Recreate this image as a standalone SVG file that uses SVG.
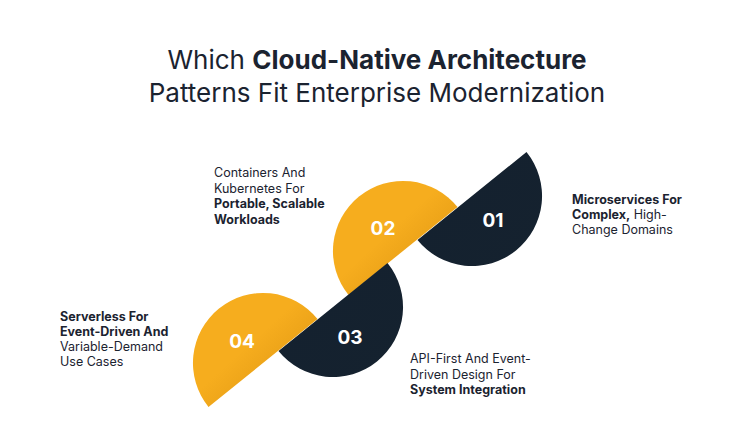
<svg xmlns="http://www.w3.org/2000/svg" width="754" height="446" viewBox="0 0 754 446">
<style>
.t{font-family:Inter,"Open Sans","Liberation Sans",sans-serif;fill:#1b2330}
.lb{font-size:12.5px}
.b{font-weight:700}
.n{font-family:Inter,"Open Sans","Liberation Sans",sans-serif;font-weight:700;font-size:19px;fill:#fff;text-anchor:middle}
.ttl{font-size:26px;text-anchor:middle}
</style>
<defs>
<linearGradient id="gy" x1="0" y1="0" x2="1" y2="1">
<stop offset="0.45" stop-color="#F6AD1E"/><stop offset="0.8" stop-color="#E39A14"/><stop offset="1" stop-color="#B87A10"/>
</linearGradient>
<linearGradient id="gn" x1="0" y1="0" x2="1" y2="1">
<stop offset="0" stop-color="#0E1924"/><stop offset="0.3" stop-color="#14212F"/><stop offset="1" stop-color="#15222F"/>
</linearGradient>
</defs>
<g id="title">
<text class="t ttl" x="377" y="69">Which <tspan class="b">Cloud-Native Architecture</tspan></text>
<text class="t ttl" x="377" y="102">Patterns Fit Enterprise Modernization</text>
</g>
<g id="connectors"></g>
<g id="node-01">
<path d="M526.5 152 A70 70 0 0 1 417.5 240 Z" fill="url(#gn)"/>
<text class="n" x="493" y="227">01</text>
<text class="t lb" x="572" y="204"><tspan class="b">Microservices For</tspan><tspan x="572" dy="15"><tspan class="b">Complex,</tspan> High-</tspan><tspan x="572" dy="15">Change Domains</tspan></text>
</g>
<g id="node-02">
<path d="M348.5 295 A70 70 0 0 1 457.5 207 Z" fill="url(#gy)"/>
<text class="n" x="383" y="235">02</text>
<text class="t lb" x="214" y="177">Containers And<tspan x="214" dy="15.5">Kubernetes For</tspan><tspan x="214" dy="15.5" class="b">Portable, Scalable</tspan><tspan x="214" dy="15.5" class="b">Workloads</tspan></text>
</g>
<g id="node-03">
<path d="M387.5 263 A70 70 0 0 1 278.5 351 Z" fill="url(#gn)"/>
<text class="n" x="350" y="344">03</text>
<text class="t lb" x="410" y="363">API-First And Event-<tspan x="410" dy="15.5">Driven Design For</tspan><tspan x="410" dy="15.5" class="b">System Integration</tspan></text>
</g>
<g id="node-04">
<path d="M208.5 407 A70 70 0 0 1 317.5 319 Z" fill="url(#gy)"/>
<text class="n" x="242" y="348">04</text>
<text class="t lb" x="60" y="321"><tspan class="b">Serverless For</tspan><tspan x="60" dy="15" class="b">Event-Driven And</tspan><tspan x="60" dy="15">Variable-Demand</tspan><tspan x="60" dy="15">Use Cases</tspan></text>
</g>
</svg>
